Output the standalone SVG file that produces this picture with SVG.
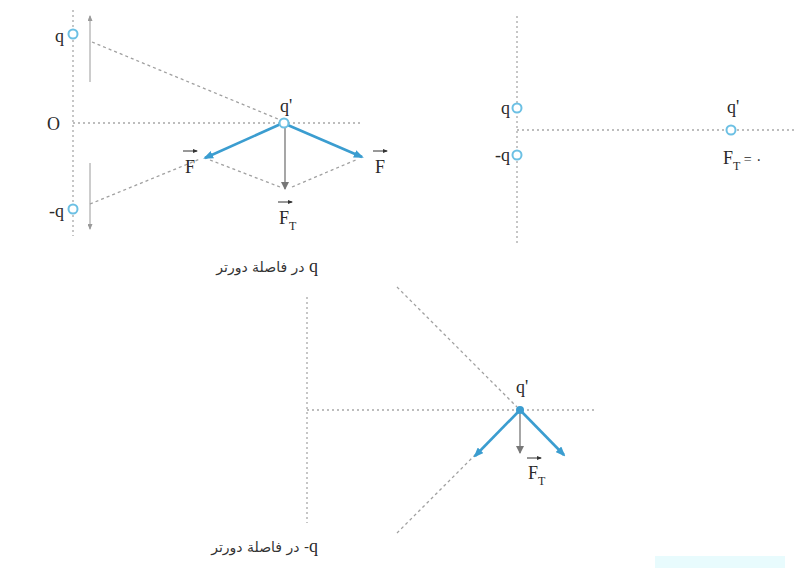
<svg xmlns="http://www.w3.org/2000/svg" width="796" height="568" viewBox="0 0 796 568">
<style>
.ax{stroke:#a8a8a8;stroke-width:1.3;stroke-dasharray:2 3;fill:none}
.dg{stroke:#a0a0a0;stroke-width:1.3;stroke-dasharray:3 3;fill:none}
.chg{fill:#fff;stroke:#6cc0e4;stroke-width:2}
.blue{stroke:#3b9dd0;stroke-width:2.6;fill:none;marker-end:url(#ab)}
.gray{stroke:#777;stroke-width:1.3;fill:none;marker-end:url(#ag)}
.thin{stroke:#9a9a9a;stroke-width:1;fill:none;marker-end:url(#at)}
.vec{stroke:#333;stroke-width:1;fill:none;marker-end:url(#av)}
.t{font-family:"Liberation Serif","DejaVu Serif",serif;font-size:18px;fill:#2a2a2a}
.s{font-size:12px}
.ar{font-family:"DejaVu Sans","Noto Sans",sans-serif;font-size:14px;fill:#333}
</style>
<defs>
<marker id="ab" markerWidth="10" markerHeight="8" refX="8" refY="4" orient="auto" markerUnits="userSpaceOnUse"><path d="M0,0 L10,4 L0,8 Z" fill="#3b9dd0"/></marker>
<marker id="ag" markerWidth="8" markerHeight="8" refX="7" refY="4" orient="auto" markerUnits="userSpaceOnUse"><path d="M0,0 L8,4 L0,8 Z" fill="#777"/></marker>
<marker id="at" markerWidth="6" markerHeight="5" refX="5" refY="2.5" orient="auto" markerUnits="userSpaceOnUse"><path d="M0,0 L6,2.5 L0,5 Z" fill="#9a9a9a"/></marker>
<marker id="av" markerWidth="5" markerHeight="4" refX="4" refY="2" orient="auto" markerUnits="userSpaceOnUse"><path d="M0,0 L5,2 L0,4 Z" fill="#333"/></marker>
</defs>

<g id="connectors">
  <line class="ax" x1="73" y1="10" x2="73" y2="236"/>
  <line class="ax" x1="73" y1="123" x2="362" y2="123"/>
  <line class="dg" x1="92" y1="42" x2="278" y2="119"/>
  <line class="dg" x1="90" y1="204" x2="200" y2="159"/>
  <line class="dg" x1="210" y1="160" x2="280" y2="187"/>
  <line class="dg" x1="292" y1="187" x2="358" y2="159"/>
  <line class="thin" x1="90" y1="82" x2="90" y2="16"/>
  <line class="thin" x1="90" y1="163" x2="90" y2="229"/>
  <line class="blue" x1="283" y1="123" x2="205" y2="158"/>
  <line class="blue" x1="283" y1="123" x2="362" y2="157"/>
  <line class="gray" x1="285" y1="127" x2="285" y2="189"/>
  <line class="ax" x1="517" y1="16" x2="517" y2="246"/>
  <line class="ax" x1="517" y1="130" x2="795" y2="130"/>
  <line class="ax" x1="307" y1="297" x2="307" y2="523"/>
  <line class="ax" x1="307" y1="410" x2="595" y2="410"/>
  <line class="dg" x1="397" y1="287" x2="517" y2="407"/>
  <line class="dg" x1="397" y1="533" x2="475" y2="455"/>
  <line class="blue" x1="520" y1="410" x2="475" y2="456"/>
  <line class="blue" x1="520" y1="410" x2="564" y2="455"/>
  <line class="gray" x1="520" y1="414" x2="520" y2="453"/>
</g>

<g id="panel1-q">
  <circle class="chg" cx="73" cy="34" r="4.5"/>
  <text class="t" x="64" y="42" text-anchor="end">q</text>
</g>
<g id="panel1-O">
  <text class="t" x="60" y="130" text-anchor="end">O</text>
</g>
<g id="panel1-minus-q">
  <circle class="chg" cx="73" cy="209" r="4.5"/>
  <text class="t" x="64" y="217" text-anchor="end">-q</text>
</g>
<g id="panel1-qprime">
  <circle class="chg" cx="284" cy="123" r="4.5"/>
  <text class="t" x="286" y="112" text-anchor="middle">q'</text>
</g>
<g id="panel1-F-left">
  <line class="vec" x1="183" y1="151" x2="197" y2="151"/>
  <text class="t" x="190" y="173" text-anchor="middle">F</text>
</g>
<g id="panel1-F-right">
  <line class="vec" x1="373" y1="151" x2="387" y2="151"/>
  <text class="t" x="380" y="173" text-anchor="middle">F</text>
</g>
<g id="panel1-FT">
  <line class="vec" x1="278" y1="202" x2="292" y2="202"/>
  <text class="t" x="279" y="224">F<tspan class="s" dy="6">T</tspan></text>
</g>

<g id="panel2-q">
  <circle class="chg" cx="517" cy="108" r="4.5"/>
  <text class="t" x="510" y="114" text-anchor="end">q</text>
</g>
<g id="panel2-minus-q">
  <circle class="chg" cx="517" cy="155" r="4.5"/>
  <text class="t" x="510" y="161" text-anchor="end">-q</text>
</g>
<g id="panel2-qprime">
  <circle class="chg" cx="731" cy="130" r="4.5"/>
  <text class="t" x="733" y="113" text-anchor="middle">q'</text>
  <text class="t" x="723" y="164">F<tspan class="s" dy="6">T</tspan><tspan dy="-6" font-size="14"> = ۰</tspan></text>
</g>

<g id="panel3-label-q">
  <text class="ar" x="318" y="272" text-anchor="end">در فاصلة دورتر <tspan class="t">q</tspan></text>
</g>
<g id="panel3-qprime">
  <circle cx="520" cy="410" r="4" fill="#3b9dd0"/>
  <text class="t" x="522" y="393" text-anchor="middle">q'</text>
</g>
<g id="panel3-FT">
  <line class="vec" x1="527" y1="458" x2="541" y2="458"/>
  <text class="t" x="528" y="479">F<tspan class="s" dy="6">T</tspan></text>
</g>
<g id="panel3-label-minus-q">
  <text class="ar" x="318" y="552" text-anchor="end">در فاصلة دورتر -<tspan class="t">q</tspan></text>
</g>

<rect x="655" y="556" width="130" height="12" fill="#e8fbfd"/>
</svg>
